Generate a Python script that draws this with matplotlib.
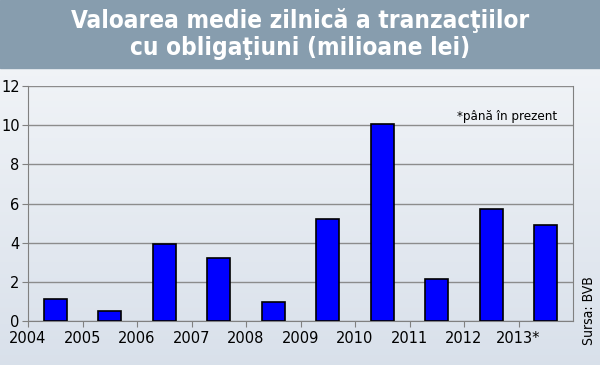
import numpy as np
import matplotlib.pyplot as plt

years = ["2004", "2005", "2006", "2007", "2008", "2009", "2010", "2011", "2012", "2013*"]
values = [1.12, 0.51, 3.95, 3.2, 0.95, 5.2, 10.05, 2.15, 5.73, 4.9]

fig = plt.figure(figsize=(6, 3.65), dpi=100)

# background gradient
bg = fig.add_axes([0, 0, 1, 1])
grad = np.linspace(0, 1, 256).reshape(-1, 1)
top = np.array([0.965, 0.972, 0.98])
bottom = np.array([0.85, 0.88, 0.92])
img = top + (bottom - top) * grad[:, :, None]
bg.imshow(img, aspect="auto", extent=[0, 1, 0, 1])
bg.axhspan(0.815, 1.0, color="#879dae")
bg.set_xlim(0, 1)
bg.set_ylim(0, 1)
bg.axis("off")

title_kw = dict(ha="center", va="center", color="white", fontsize=17.5, fontweight="bold",
                family="DejaVu Sans", fontstretch="condensed")
fig.text(0.5, 0.945, "Valoarea medie zilnic\u0103 a tranzac\u0163iilor", **title_kw)
fig.text(0.5, 0.868, "cu obliga\u0163iuni (milioane lei)", **title_kw)

ax = fig.add_axes([28 / 600, 44 / 365, 545 / 600, 235 / 365])
ax.patch.set_alpha(0)
x = np.arange(len(years)) + 0.5
ax.bar(x, values, width=0.42, color="#0000ff", edgecolor="black", linewidth=1.2, zorder=3)

ax.set_xlim(0, len(years))
ax.set_ylim(0, 12)
ax.set_yticks(range(0, 13, 2))
ax.set_xticks(np.arange(len(years)))
ax.set_xticklabels(years)
ax.yaxis.grid(True, color="#8c8c8c", linewidth=1, zorder=0)
ax.spines["top"].set_visible(False)
for s in ["left", "bottom", "right"]:
    ax.spines[s].set_color("#808080")
ax.tick_params(axis="both", colors="#808080", labelcolor="black", labelsize=10.5, length=4)
ax.tick_params(axis="y", pad=2)

ax.text(0.97, 0.87, "*până în prezent", transform=ax.transAxes, ha="right", va="center",
        fontsize=9.5, family="DejaVu Sans", fontstretch="condensed")
fig.text(0.982, 0.055, "Sursa: BVB", rotation=90, ha="center", va="bottom",
         fontsize=10, family="DejaVu Sans", fontstretch="condensed")

fig.savefig("out.png", dpi=100)
